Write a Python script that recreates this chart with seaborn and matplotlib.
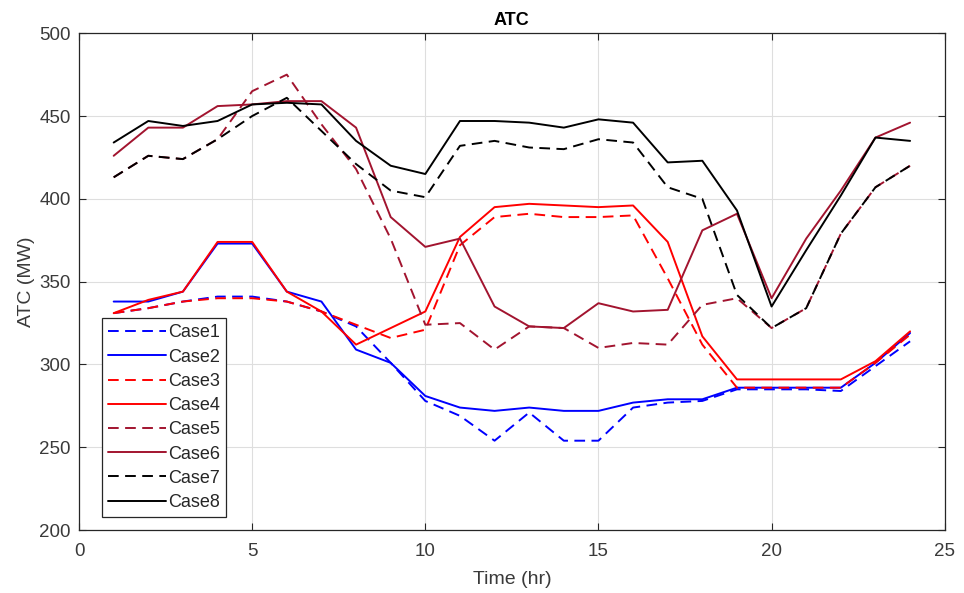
import matplotlib
matplotlib.use("Agg")
import matplotlib.pyplot as plt
import seaborn as sns
import pandas as pd

hours = list(range(1, 25))

case1 = [331, 334, 338, 341, 341, 338, 332, 323, 301, 278, 269, 254, 271, 254, 254, 274, 277, 278, 285, 285, 285, 284, 299, 314]
case2 = [338, 338, 344, 373, 373, 344, 338, 309, 301, 281, 274, 272, 274, 272, 272, 277, 279, 279, 286, 286, 286, 286, 301, 319]
case3 = [331, 334, 338, 340, 340, 338, 332, 324, 316, 321, 372, 389, 391, 389, 389, 390, 352, 312, 286, 286, 286, 286, 301, 318]
case4 = [331, 339, 344, 374, 374, 344, 332, 312, 322, 332, 377, 395, 397, 396, 395, 396, 374, 317, 291, 291, 291, 291, 302, 320]
case5 = [413, 426, 424, 436, 465, 475, 445, 418, 376, 324, 325, 309, 323, 322, 310, 313, 312, 336, 340, 322, 334, 379, 407, 420]
case6 = [426, 443, 443, 456, 457, 459, 459, 443, 389, 371, 376, 335, 323, 322, 337, 332, 333, 381, 391, 340, 376, 405, 437, 446]
case7 = [413, 426, 424, 436, 450, 461, 441, 421, 405, 401, 432, 435, 431, 430, 436, 434, 407, 400, 342, 322, 334, 379, 407, 420]
case8 = [434, 447, 444, 447, 457, 458, 457, 435, 420, 415, 447, 447, 446, 443, 448, 446, 422, 423, 393, 335, 369, 402, 437, 435]

case_names = ["Case1", "Case2", "Case3", "Case4", "Case5", "Case6", "Case7", "Case8"]
case_values = [case1, case2, case3, case4, case5, case6, case7, case8]

x_ticks = [0, 5, 10, 15, 20, 25]
y_ticks = [200, 250, 300, 350, 400, 450, 500]

rows = []
for name, vals in zip(case_names, case_values):
    for h, v in zip(hours, vals):
        rows.append({"Time": h, "ATC": v, "Case": name})
df = pd.DataFrame(rows)

sns.set_theme(style="white")
plt.rcParams['font.family'] = ['Liberation Sans', 'DejaVu Sans']

crimson = (0.635, 0.078, 0.184)
colors = {"Case1": "blue", "Case2": "blue", "Case3": "red", "Case4": "red",
          "Case5": crimson, "Case6": crimson, "Case7": "black", "Case8": "black"}
dashed = (0, (5.5, 3.3))
styles = {"Case1": dashed, "Case2": "-", "Case3": dashed, "Case4": "-",
          "Case5": dashed, "Case6": "-", "Case7": dashed, "Case8": "-"}

fig = plt.figure(figsize=(9.64, 5.93), dpi=100)
ax = fig.add_axes([0.082, 0.106, 0.898, 0.838])

for name in case_names:
    sub = df[df["Case"] == name]
    sns.lineplot(data=sub, x="Time", y="ATC", ax=ax, color=colors[name],
                 linestyle=styles[name], linewidth=1.4, label=name)

ax.set_xlim(0, 25)
ax.set_ylim(200, 500)
ax.set_xticks(x_ticks)
ax.set_yticks(y_ticks)
ax.grid(True, color="#dedede", linewidth=0.8)
ax.set_axisbelow(True)
for sp in ax.spines.values():
    sp.set_visible(True)
    sp.set_color("#262626")
    sp.set_linewidth(0.9)
ax.tick_params(direction="in", length=5, width=0.8, colors="#262626",
               labelsize=13.5, top=True, right=True, bottom=True, left=True)
ax.tick_params(axis="x", pad=9)
ax.tick_params(axis="y", pad=6)
ax.tick_params(axis="both", labelcolor="#3a3a3a")
ax.set_xlabel("Time (hr)", fontsize=14, color="#3a3a3a", labelpad=8)
ax.set_ylabel("ATC (MW)", fontsize=14, color="#3a3a3a", labelpad=3)
ax.set_title("ATC", fontsize=13, fontweight="bold", color="black", pad=6)

leg = ax.legend(loc="lower left", bbox_to_anchor=(0.02, 0.015), fontsize=13,
                frameon=True, fancybox=False, framealpha=1, edgecolor="#262626",
                handlelength=3.2, handletextpad=0.1, labelspacing=0.4,
                borderpad=0.35, borderaxespad=0.3)
leg.get_frame().set_linewidth(0.9)
for t in leg.get_texts():
    t.set_color("#262626")

fig.savefig("out.png", dpi=100, facecolor="white")
